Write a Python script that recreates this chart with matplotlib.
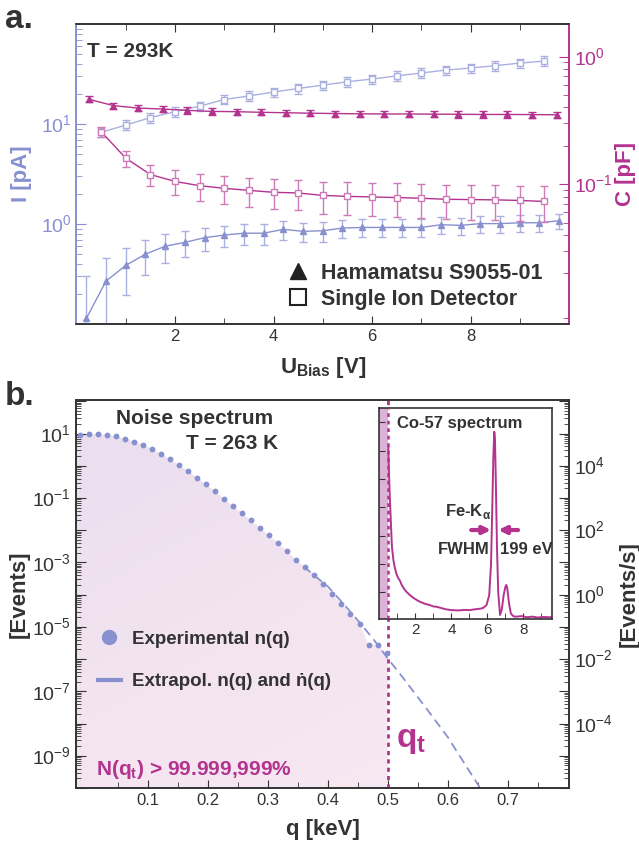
import numpy as np
import matplotlib
matplotlib.use("Agg")
import matplotlib.pyplot as plt
from matplotlib.lines import Line2D
from matplotlib.colors import LinearSegmentedColormap

plt.rcParams['font.family'] = ['Liberation Sans', 'DejaVu Sans']
plt.rcParams['mathtext.fontset'] = 'custom'
plt.rcParams['mathtext.rm'] = 'Liberation Sans'
plt.rcParams['mathtext.bf'] = 'Liberation Sans:bold'

BLUE = '#8891d0'
BLUE_LIGHT = '#aab1e0'
MAG = '#b3338f'
MAG_LIGHT = '#cf7ab8'
DARK = '#333333'

# ---- panel a: I-V and C-V ----
ham_v_I = [0.2, 0.6, 1.0, 1.4, 1.8, 2.2, 2.6, 3.0, 3.4, 3.8, 4.2, 4.6, 5.0,
           5.4, 5.8, 6.2, 6.6, 7.0, 7.4, 7.8, 8.2, 8.6, 9.0, 9.4, 9.8]
ham_I = [0.114, 0.269, 0.386, 0.50, 0.60, 0.656, 0.73, 0.776, 0.81, 0.81, 0.885,
         0.845, 0.857, 0.912, 0.925, 0.925, 0.925, 0.925, 0.985, 0.97, 1.01,
         1.01, 1.03, 1.03, 1.08]
ham_I_err = [0.19] * len(ham_I)

sid_v = [0.5, 1.0, 1.5, 2.0, 2.5, 3.0, 3.5, 4.0, 4.5, 5.0, 5.5, 6.0, 6.5,
         7.0, 7.5, 8.0, 8.5, 9.0, 9.5]
sid_I = [8.26, 9.77, 11.6, 13.3, 15.1, 17.6, 19.1, 20.9, 22.7, 24.5, 26.5,
         28.2, 30.3, 32.4, 34.7, 36.3, 38.4, 40.7, 42.7]
sid_I_err = [0.9, 1.1, 1.3, 1.5, 1.7, 1.9, 2.1, 2.3, 2.5, 2.7, 2.9, 3.1, 3.3,
             3.6, 3.8, 4.0, 4.2, 4.5, 4.7]

ham_v_C = [0.25, 0.75, 1.25, 1.75, 2.25, 2.75, 3.25, 3.75, 4.25, 4.75, 5.25,
           5.75, 6.25, 6.75, 7.25, 7.75, 8.25, 8.75, 9.25, 9.75]
ham_C = [0.463, 0.413, 0.395, 0.388, 0.379, 0.372, 0.370, 0.366, 0.363, 0.360,
         0.358, 0.356, 0.355, 0.355, 0.354, 0.353, 0.352, 0.352, 0.351, 0.350]
ham_C_err = [0.026, 0.023, 0.022, 0.022, 0.021, 0.021, 0.021, 0.020, 0.020,
             0.020, 0.020, 0.020, 0.020, 0.020, 0.020, 0.020, 0.020, 0.020,
             0.020, 0.020]

sid_C = [0.258, 0.160, 0.119, 0.105, 0.0973, 0.0927, 0.0894, 0.0863, 0.0853,
         0.0816, 0.0802, 0.0794, 0.0785, 0.0775, 0.0761, 0.0757, 0.0753,
         0.0745, 0.0732]
sid_C_err = [0.023] * len(sid_C)

# ---- panel b: noise spectrum ----
noise_q = [-0.013, 0.003, 0.018, 0.033, 0.048, 0.063, 0.078, 0.093, 0.108,
           0.122, 0.137, 0.152, 0.167, 0.182, 0.197, 0.212, 0.227, 0.242,
           0.257, 0.272, 0.287, 0.302, 0.317, 0.332, 0.347, 0.362, 0.377,
           0.392, 0.407, 0.422, 0.437, 0.453, 0.468, 0.483, 0.498]
noise_n = [9.3, 9.5, 9.5, 8.9, 8.1, 6.8, 5.6, 4.4, 3.25, 2.33, 1.59, 1.06,
           0.69, 0.43, 0.267, 0.162, 0.095, 0.056, 0.034, 0.020, 0.0118,
           0.0069, 0.0040, 0.00228, 0.00122, 0.00072, 0.00042, 2.1e-4,
           1.05e-4, 5.2e-5, 2.6e-5, 1.26e-5, 2.8e-6, 2.8e-6, 1.5e-6]

extra_q = [0.36, 0.375, 0.40, 0.425, 0.45, 0.475, 0.50, 0.525, 0.55, 0.575,
           0.60, 0.625, 0.653]
extra_n = [7.5e-4, 4.3e-4, 1.8e-4, 5.5e-5, 1.6e-5, 4.4e-6, 1.05e-6, 2.7e-7,
           6.6e-8, 1.6e-8, 3.8e-9, 7e-10, 1.07e-10]

q_t = 0.5

# ---- inset: Co-57 spectrum (keV, log10 counts) ----
co_E = [0.50, 0.52, 0.55, 0.58, 0.62, 0.66, 0.70, 0.78, 0.85, 0.95, 1.05,
        1.13, 1.25, 1.40, 1.50, 1.70, 1.90, 2.10, 2.24, 2.50, 2.80, 3.00,
        3.17, 3.40, 3.70, 4.00, 4.10, 4.40, 4.70, 5.00, 5.30, 5.60, 5.77,
        5.95, 6.10, 6.20, 6.27, 6.33, 6.38, 6.42, 6.47, 6.53, 6.60, 6.70,
        6.80, 6.90, 7.00, 7.05, 7.10, 7.20, 7.30, 7.45, 7.60, 7.90, 8.20,
        8.50, 8.80, 9.10, 9.40, 9.60]
co_logc = [6.14, 5.60, 4.97, 4.40, 3.80, 3.20, 2.61, 2.15, 1.90, 1.65, 1.50,
           1.43, 1.25, 1.10, 1.02, 0.90, 0.80, 0.72, 0.67, 0.60, 0.55, 0.50,
           0.49, 0.45, 0.40, 0.37, 0.37, 0.36, 0.38, 0.37, 0.40, 0.42, 0.45,
           0.55, 0.90, 2.00, 4.00, 5.80, 6.67, 6.40, 4.80, 2.60, 1.00, 0.20,
           0.40, 0.90, 1.20, 1.26, 1.15, 0.60, 0.25, 0.15, 0.14, 0.16, 0.12,
           0.14, 0.11, 0.13, 0.12, 0.12]

fig = plt.figure(figsize=(6.39, 8.57), dpi=100)

# ================= panel a =================
ax = fig.add_axes([0.1197, 0.6219, 0.7708, 0.350])
ax2 = ax.twinx()

ax.errorbar(ham_v_I, ham_I, yerr=ham_I_err, color=BLUE, ecolor=BLUE_LIGHT,
            marker='^', ms=4.5, lw=1.0, elinewidth=1.0, capsize=3, zorder=3)
ax.errorbar(sid_v, sid_I, yerr=sid_I_err, color=BLUE_LIGHT, ecolor=BLUE_LIGHT,
            marker='s', ms=4, mfc='white', lw=1.0, elinewidth=1.0, capsize=3)
ax2.errorbar(ham_v_C, ham_C, yerr=ham_C_err, color=MAG, ecolor=MAG,
             marker='^', ms=4.5, lw=1.0, elinewidth=1.0, capsize=3)
ax2.errorbar(sid_v, sid_C, yerr=sid_C_err, color=MAG, ecolor=MAG_LIGHT,
             marker='s', ms=4, mfc='white', mec=MAG_LIGHT, lw=1.0,
             elinewidth=1.0, capsize=3)

ax.set_xlim(0, 10)
ax.set_yscale('log')
ax.set_ylim(0.1, 100)
ax2.set_yscale('log')
ax2.set_ylim(0.008, 1.8)

ax.set_xticks([2, 4, 6, 8])
ax.set_xticks([1, 3, 5, 7, 9], minor=True)
ax.set_yticks([1, 10])
ax.set_yticklabels([r'$10^0$', r'$10^1$'])
ax2.set_yticks([0.1, 1])
ax2.set_yticklabels([r'$10^{-1}$', r'$10^0$'])

ax.tick_params(axis='x', which='both', direction='in', top=True, colors=DARK,
               labelsize=12)
ax.tick_params(axis='x', which='major', length=6)
ax.tick_params(axis='x', which='minor', length=4)
ax.tick_params(axis='y', which='both', direction='in', colors=BLUE,
               labelsize=14)
ax.tick_params(axis='y', which='major', length=7)
ax.tick_params(axis='y', which='minor', length=4)
ax2.tick_params(axis='y', which='both', direction='in', colors=MAG,
                labelsize=14)
ax2.tick_params(axis='y', which='major', length=7)
ax2.tick_params(axis='y', which='minor', length=4)

for a in (ax, ax2):
    a.spines['top'].set_color(DARK)
    a.spines['bottom'].set_color(DARK)
    a.spines['left'].set_color(BLUE)
    a.spines['right'].set_color(MAG)
    for s in a.spines.values():
        s.set_linewidth(1.2)

ax.set_xlabel(r'U$_{\mathregular{Bias}}$ [V]', fontsize=16, fontweight='bold',
              color=DARK, labelpad=8)
ax.set_ylabel('I [pA]', fontsize=16, fontweight='bold', color=BLUE, labelpad=6)
ax2.set_ylabel('C [pF]', fontsize=16, fontweight='bold', color=MAG, labelpad=2)
ax.text(0.022, 0.94, 'T = 293K', transform=ax.transAxes, fontsize=15,
        fontweight='bold', color=DARK, va='top')

handles = [Line2D([], [], marker='^', ls='none', color='#222222', ms=12),
           Line2D([], [], marker='s', ls='none', mfc='none', mec='#222222',
                  mew=1.5, ms=12)]
ax.legend(handles, ['Hamamatsu S9055-01', 'Single Ion Detector'],
          loc='upper left', bbox_to_anchor=(0.425, 0.205), frameon=False,
          prop={'weight': 'bold', 'size': 15.5}, labelcolor=DARK,
          handletextpad=0.55, handlelength=1.1, labelspacing=0.25,
          borderpad=0, borderaxespad=0)

fig.text(0.008, 0.995, 'a.', fontsize=24, fontweight='bold', color=DARK,
         va='top')

# ================= panel b =================
bx = fig.add_axes([0.1189, 0.0805, 0.7715, 0.4528])
bx2 = bx.twinx()

bx.set_yscale('log')
bx.set_xlim(-0.0195, 0.802)
bx.set_ylim(1e-10, 1.1e2)
bx2.set_yscale('log')
bx2.set_ylim(1e-6, 1.1e6)

# gradient shading under the measured spectrum up to q_t
fill_q = [bx.get_xlim()[0]] + [q for q in noise_q if q <= q_t] + [q_t]
fill_n = [noise_n[0]] + [n for q, n in zip(noise_q, noise_n) if q <= q_t] + [noise_n[-1]]
poly = bx.fill_between(fill_q, fill_n, 1e-10, facecolor='none', edgecolor='none')
cmap = LinearSegmentedColormap.from_list('pk', ['#e9ddef', '#f3e4f0', '#f8eaf3'])
yy, xx = np.mgrid[0:1:200j, 0:1:200j]
grad = yy * 0.6 + xx * 0.4
img = bx.imshow(grad, extent=(0, 1, 0, 1), transform=bx.transAxes,
                cmap=cmap, aspect='auto', zorder=0, origin='upper')
img.set_clip_path(poly.get_paths()[0], bx.transData)

bx.plot(extra_q, extra_n, ls=(0, (5, 3)), color=BLUE, lw=1.3, zorder=2)
bx.plot(noise_q, noise_n, 'o', color=BLUE, ms=4.2, mec='none', zorder=3)
bx.axvline(q_t, color=MAG, ls=(0, (1.5, 1.5)), lw=2, zorder=2)

bx.set_xticks([0.1, 0.2, 0.3, 0.4, 0.5, 0.6, 0.7])
bx.set_xticks([0.05, 0.15, 0.25, 0.35, 0.45, 0.55, 0.65, 0.75], minor=True)
bx.set_yticks([10.0 ** e for e in range(-10, 3)])
bx.set_yticklabels(['' if e % 2 == 0 else r'$10^{%d}$' % e for e in range(-10, 3)])
bx.yaxis.set_minor_locator(matplotlib.ticker.LogLocator(base=10, subs=np.arange(2, 10), numticks=30))
bx.yaxis.set_minor_formatter(matplotlib.ticker.NullFormatter())
bx2.set_yticks([10.0 ** e for e in range(-6, 7)])
bx2.set_yticklabels(['' if (e % 2 != 0 or abs(e) > 4) else r'$10^{%d}$' % e
                     for e in range(-6, 7)])
bx2.yaxis.set_minor_locator(matplotlib.ticker.LogLocator(base=10, subs=np.arange(2, 10), numticks=30))
bx2.yaxis.set_minor_formatter(matplotlib.ticker.NullFormatter())

bx.tick_params(axis='x', which='both', direction='in', colors=DARK, labelsize=12)
bx.tick_params(axis='x', which='major', length=6)
bx.tick_params(axis='x', which='minor', length=4)
for a in (bx, bx2):
    a.tick_params(axis='y', which='both', direction='in', colors=DARK,
                  labelsize=14)
    a.tick_params(axis='y', which='major', length=7)
    a.tick_params(axis='y', which='minor', length=3.5)
    for s in a.spines.values():
        s.set_color(DARK)
        s.set_linewidth(1.2)

bx.set_xlabel('q [keV]', fontsize=16, fontweight='bold', color=DARK, labelpad=8)
bx.set_ylabel('[Events]', fontsize=16, fontweight='bold', color=DARK, labelpad=2)
bx2.set_ylabel('[Events/s]', fontsize=16, fontweight='bold', color=DARK, labelpad=4)

bx.text(0.241, 0.953, 'Noise spectrum', transform=bx.transAxes, fontsize=15,
        fontweight='bold', color=DARK, ha='center', va='center')
bx.text(0.41, 0.888, 'T = 263 K', transform=bx.transAxes, fontsize=15,
        fontweight='bold', color=DARK, ha='right', va='center')
bx.text(0.04, 0.048, r'N(q$_{\mathregular{t}}$) > 99.999,999%', transform=bx.transAxes,
        fontsize=15, fontweight='bold', color=MAG, ha='left', va='center')
bx.text(q_t + 0.014, 3e-9, r'q$_{\mathregular{t}}$', fontsize=24,
        fontweight='bold', color=MAG, ha='left', va='center')

handles_b = [Line2D([], [], marker='o', ls='none', color=BLUE, ms=11, mec='none'),
             Line2D([], [], ls='-', color=BLUE, lw=3)]
bx.legend(handles_b, ['Experimental n(q)', 'Extrapol. n(q) and \u1e45(q)'],
          loc='upper left', bbox_to_anchor=(0.045, 0.405), frameon=False,
          prop={'weight': 'bold', 'size': 13.5}, labelcolor=DARK,
          handletextpad=0.6, handlelength=1.2, labelspacing=1.35,
          borderpad=0, borderaxespad=0)

fig.text(0.008, 0.556, 'b.', fontsize=24, fontweight='bold', color=DARK,
         va='top')

# ================= inset =================
ix = fig.add_axes([0.5936, 0.2777, 0.2707, 0.2459])
ix.set_yscale('log')
ix.set_xlim(0, 9.6)
ix.set_ylim(10 ** 0.057, 10 ** 7.5)
ix.axvspan(0, q_t, color='#dcb2d6', lw=0, zorder=0)
ix.plot(co_E, [10.0 ** c for c in co_logc], color=MAG, lw=1.4, zorder=2)
ix.axvline(q_t, color=MAG, ls=(0, (1.5, 1.5)), lw=1.8, zorder=3)
ix.set_xticks([2, 4, 6, 8])
ix.set_xticks([1, 3, 5, 7, 9], minor=True)
ix.set_yticks([10.0 ** e for e in range(1, 8)])
ix.yaxis.set_minor_locator(matplotlib.ticker.NullLocator())
ix.set_yticklabels([])
ix.tick_params(axis='x', which='both', direction='in', colors=DARK, labelsize=11,
               length=4, pad=3)
ix.tick_params(axis='y', which='both', direction='in', colors=DARK, length=4)
for s in ix.spines.values():
    s.set_color(DARK)
    s.set_linewidth(1.2)

ix.text(0.1, 0.93, 'Co-57 spectrum', transform=ix.transAxes, fontsize=12,
        fontweight='bold', color=DARK, ha='left', va='center')
ix.text(6.2, 10 ** 3.87, r'Fe-K$_{\mathregular{\alpha}}$', fontsize=12,
        fontweight='bold', color=DARK, ha='right', va='center')
ix.annotate('', xy=(6.2, 10 ** 3.2), xytext=(5.1, 10 ** 3.2),
            arrowprops=dict(arrowstyle='-|>', color=MAG, lw=3, mutation_scale=11,
                            shrinkA=0, shrinkB=0))
ix.annotate('', xy=(6.6, 10 ** 3.2), xytext=(7.7, 10 ** 3.2),
            arrowprops=dict(arrowstyle='-|>', color=MAG, lw=3, mutation_scale=11,
                            shrinkA=0, shrinkB=0))
ix.text(6.1, 10 ** 2.5, 'FWHM', fontsize=12, fontweight='bold', color=DARK,
        ha='right', va='center')
ix.text(6.7, 10 ** 2.5, '199 eV', fontsize=12, fontweight='bold', color=DARK,
        ha='left', va='center')

fig.savefig('out.png', dpi=100)
